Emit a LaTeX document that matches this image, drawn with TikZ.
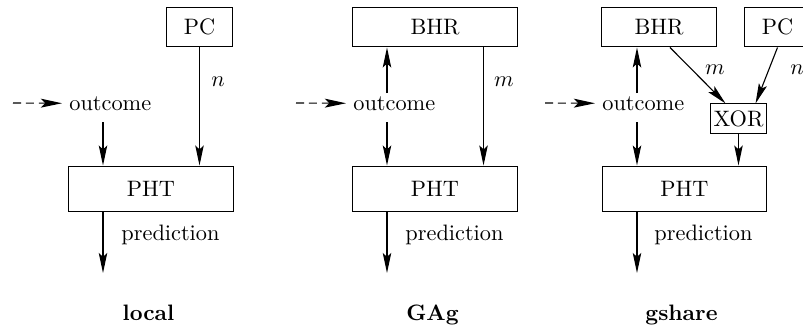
\documentclass[tikz,border=0pt]{standalone}
\usetikzlibrary{arrows.meta,calc}
\begin{document}
\begin{tikzpicture}[x=0.448pt,y=-0.448pt,
  box/.style={draw,line width=0.45pt,inner sep=0pt,minimum height=17.9pt},
  arr/.style={line width=0.5pt,-{Stealth[length=9pt,width=3.8pt,inset=1.8pt]}},
  darr/.style={line width=0.5pt,dash pattern=on 3.6pt off 2.2pt,-{Stealth[length=9.5pt,width=4pt,inset=2pt,sep=0pt]}},
  lbl/.style={inner sep=0pt},
  outc/.style={inner xsep=3.1pt,inner ysep=0pt,anchor=base west},
  ttl/.style={inner sep=0pt,anchor=base,font=\bfseries}]
\useasboundingbox (0,0) rectangle (803,327);
% ---------- local ----------
\node[box,minimum width=30pt] (pc1) at (199.5,27) {PC};
\node[box,minimum width=73.5pt,minimum height=20.6pt] (pht1) at (151,189) {PHT};
\node[outc] (out1) at (62,110) {outcome};
\coordinate (d1) at (13,103);
\coordinate (ob1) at (103,122);
\coordinate (p1) at (103,273);
\draw[darr] (d1) -- (out1.west);
\draw[arr] (ob1) -- (ob1 |- pht1.north);
\draw[arr] (pc1.south) -- (pc1.south |- pht1.north);
\draw[arr] (p1 |- pht1.south) -- (p1);
\node[lbl] (n1) at (218,82) {$n$};
\node[lbl,anchor=base west] (pr1) at (121,240) {prediction};
\node[ttl] (t1) at (148.5,320) {local};
% ---------- GAg ----------
\node[box,minimum width=73.5pt] (bhr2) at (435,27) {BHR};
\node[box,minimum width=73.5pt,minimum height=20.6pt] (pht2) at (435,189) {PHT};
\node[outc] (out2) at (346,110) {outcome};
\coordinate (d2) at (296,103);
\coordinate (ot2) at (387,93);
\coordinate (ob2) at (387,122);
\coordinate (p2) at (387,273);
\draw[darr] (d2) -- (out2.west);
\draw[arr] (ot2) -- (ot2 |- bhr2.south);
\draw[arr] (ob2) -- (ob2 |- pht2.north);
\draw[arr] ($(bhr2.south east)+(-34,0)$) -- ($(pht2.north east)+(-34,0)$);
\draw[arr] (p2 |- pht2.south) -- (p2);
\node[lbl] (m2) at (504,82) {$m$};
\node[lbl,anchor=base west] (pr2) at (405,240) {prediction};
\node[ttl] (t2) at (432.5,320) {GAg};
% ---------- gshare ----------
\node[box,minimum width=51.1pt] (bhr3) at (659,27) {BHR};
\node[box,minimum width=30pt] (pc3) at (777.5,27) {PC};
\node[draw,line width=0.45pt,inner sep=0pt,minimum width=25.5pt,minimum height=13pt] (xor) at (738.5,118.5) {XOR};
\node[box,minimum width=73.8pt,minimum height=20.6pt] (pht3) at (684.5,189) {PHT};
\node[outc] (out3) at (595,110) {outcome};
\coordinate (d3) at (545,103);
\coordinate (ot3) at (637,93);
\coordinate (ob3) at (637,122);
\coordinate (p3) at (637,273);
\draw[darr] (d3) -- (out3.west);
\draw[arr] (ot3) -- (ot3 |- bhr3.south);
\draw[arr] (ob3) -- (ob3 |- pht3.north);
\draw[arr] ($(bhr3.south)+(11,0)$) -- ($(xor.north west)+(16,0)$);
\draw[arr] (pc3.south) -- ($(xor.north west)+(46,0)$);
\draw[arr] (xor.south) -- (xor.south |- pht3.north);
\draw[arr] (p3 |- pht3.south) -- (p3);
\node[lbl] (m3) at (715,70) {$m$};
\node[lbl] (n3) at (797,70) {$n$};
\node[lbl,anchor=base west] (pr3) at (654,240) {prediction};
\node[ttl] (t3) at (681.5,320) {gshare};
\end{tikzpicture}
\end{document}
